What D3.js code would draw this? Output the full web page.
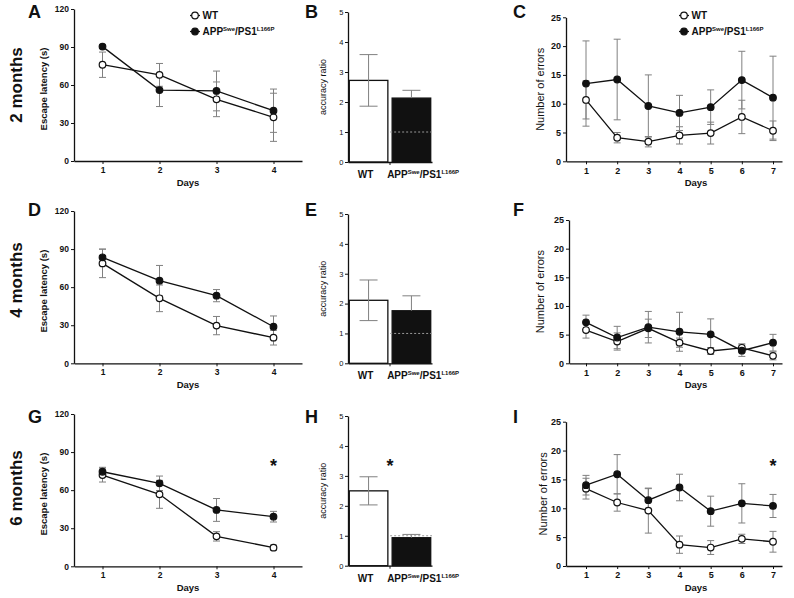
<!DOCTYPE html>
<html><head><meta charset="utf-8">
<script src="https://cdn.jsdelivr.net/npm/d3@7"></script>
<style>
html,body{margin:0;padding:0;background:#fff;}
svg{display:block;font-family:"Liberation Sans",Arial,sans-serif;}
</style></head>
<body>
<svg id="chart" width="794" height="598"></svg>
<script>
// ---------- data ----------
const days4 = [1, 2, 3, 4];
const days7 = [1, 2, 3, 4, 5, 6, 7];
const latencyTicks = [0, 30, 60, 90, 120];
const errorTicks = [0, 5, 10, 15, 20, 25];
const ratioTicks = [0, 1, 2, 3, 4, 5];
const groups = ["WT", "APP/PS1"];
const rowLabels = ["2 months", "4 months", "6 months"];

// A: escape latency, 2 months
const lat2mWT = [76, 68, 48.7, 34.5];
const lat2mWTsem = [10, 9, 13.7, 19];
const lat2mAPP = [90.3, 56, 55.3, 39.7];
const lat2mAPPsem = [1.5, 13, 15.7, 17.1];
// D: escape latency, 4 months
const lat4mWT = [78.7, 51.2, 29.7, 20.2];
const lat4mWTsem = [11.2, 10.5, 7.2, 5.8];
const lat4mAPP = [83.5, 65.1, 53.3, 28.8];
const lat4mAPPsem = [6.5, 12, 4.8, 8.5];
// G: escape latency, 6 months
const lat6mWT = [71.9, 56.7, 23.6, 14.7];
const lat6mWTsem = [5.5, 11, 3.7, 2];
const lat6mAPP = [74.5, 65.4, 44.4, 39.1];
const lat6mAPPsem = [3.5, 5.7, 9, 4.2];

// B, E, H: accuracy ratio [WT, APP/PS1]
const ratio2m = [2.72, 2.13];
const ratio2mSem = [0.86, 0.26];
const ratio4m = [2.11, 1.76];
const ratio4mSem = [0.68, 0.5];
const ratio6m = [2.5, 0.935];
const ratio6mSem = [0.47, 0.11];
const chanceLevel = 1;

// C: number of errors, 2 months
const err2mWT = [10.65, 4.1, 3.4, 4.5, 4.9, 7.7, 5.3];
const err2mWTsem = [3.3, 0.9, 0.9, 1.5, 1.9, 2.9, 1.7];
const err2mAPP = [13.5, 14.2, 9.6, 8.4, 9.4, 14.1, 11.05];
const err2mAPPsem = [7.4, 7, 5.4, 3.05, 3, 5, 7.2];
// F: number of errors, 4 months
const err4mWT = [5.8, 3.8, 6.1, 3.6, 2.15, 2.7, 1.3];
const err4mWTsem = [1.4, 1.5, 1.6, 0.8, 0.6, 0.7, 0.7];
const err4mAPP = [7.15, 4.5, 6.3, 5.5, 5.05, 2.2, 3.6];
const err4mAPPsem = [1.25, 1.95, 2.75, 3.4, 2.7, 1.0, 1.45];
// I: number of errors, 6 months
const err6mWT = [13.4, 11.0, 9.6, 3.7, 3.2, 4.7, 4.2];
const err6mWTsem = [1.8, 1.5, 3.9, 1.5, 1.2, 0.8, 1.8];
const err6mAPP = [14.0, 15.9, 11.4, 13.6, 9.5, 10.85, 10.4];
const err6mAPPsem = [1.7, 3.4, 2, 2.3, 2.6, 3.4, 2];

// ---------- drawing ----------
const svg = d3.select("#chart");
const ERR = "#808080";
const INK = "#111";

function appLabel(sel, fs) {
  sel.append("tspan").text("APP");
  sel.append("tspan").attr("dy", -fs * 0.42).attr("font-size", fs * 0.6).text("Swe");
  sel.append("tspan").attr("dy", fs * 0.42).text("/PS1");
  sel.append("tspan").attr("dy", -fs * 0.42).attr("font-size", fs * 0.6).text("L166P");
}

function styleAxis(g, fs, weight) {
  g.select(".domain").attr("stroke", INK).attr("stroke-width", 1.3);
  g.selectAll(".tick line").attr("stroke", INK).attr("stroke-width", 1);
  g.selectAll(".tick text").attr("font-size", fs).attr("font-weight", weight)
    .attr("fill", INK).attr("font-family", "Liberation Sans, Arial, sans-serif");
}

function linePanel(c) {
  const g = svg.append("g");
  const x = d3.scaleLinear().domain(c.xdom).range([c.x0, c.x1]);
  const y = d3.scaleLinear().domain([0, c.ymax]).range([c.yb, c.yt]);
  const ya = g.append("g").attr("transform", `translate(${c.x0},0)`)
    .call(d3.axisLeft(y).tickValues(c.yticks).tickSize(3).tickSizeOuter(0).tickPadding(2));
  styleAxis(ya, c.tfs, "bold");
  const xa = g.append("g").attr("transform", `translate(0,${c.yb})`)
    .call(d3.axisBottom(x).tickValues(c.days).tickSize(3).tickSizeOuter(0).tickPadding(3).tickFormat(d3.format("d")));
  styleAxis(xa, c.tfs, "bold");

  const series = [
    {v: c.wt, e: c.wtE, fill: "#fff"},
    {v: c.app, e: c.appE, fill: INK}
  ];
  // error bars
  series.forEach(s => {
    const eb = g.append("g").attr("stroke", ERR).attr("stroke-width", 1);
    c.days.forEach((d, i) => {
      const cx = x(d), hi = y(s.v[i] + s.e[i]), lo = y(Math.max(0, s.v[i] - s.e[i]));
      eb.append("line").attr("x1", cx).attr("x2", cx).attr("y1", hi).attr("y2", lo);
      eb.append("line").attr("x1", cx - 3.5).attr("x2", cx + 3.5).attr("y1", hi).attr("y2", hi);
      eb.append("line").attr("x1", cx - 3.5).attr("x2", cx + 3.5).attr("y1", lo).attr("y2", lo);
    });
  });
  const line = d3.line().x((d, i) => x(c.days[i])).y(d => y(d));
  series.forEach(s => {
    g.append("path").datum(s.v).attr("d", line).attr("fill", "none")
      .attr("stroke", INK).attr("stroke-width", 1.3);
  });
  series.forEach(s => {
    g.selectAll(null).data(s.v).enter().append("circle")
      .attr("cx", (d, i) => x(c.days[i])).attr("cy", d => y(d)).attr("r", 3.3)
      .attr("fill", s.fill).attr("stroke", INK).attr("stroke-width", 1.2);
  });
  // axis titles
  g.append("text").attr("x", c.dx).attr("y", c.dy).attr("text-anchor", "middle")
    .attr("font-size", 9.5).attr("font-weight", "bold").attr("fill", INK).text("Days");
  g.append("text").attr("transform", `translate(${c.lx},${c.ly}) rotate(-90)`)
    .attr("text-anchor", "middle").attr("font-size", c.lfs).attr("font-weight", c.lw)
    .attr("fill", INK).text(c.ylabel);
  if (c.star != null) {
    g.append("text").attr("x", x(c.star)).attr("y", c.starY).attr("text-anchor", "middle")
      .attr("font-size", 18).attr("font-weight", "bold").attr("fill", INK).text("*");
  }
  if (c.legend) {
    const L = c.legend;
    [{t: "WT", fill: "#fff"}, {t: "APP", fill: INK}].forEach((it, i) => {
      const yy = L.y + i * 16;
      g.append("line").attr("x1", L.x).attr("x2", L.x + 10).attr("y1", yy).attr("y2", yy)
        .attr("stroke", INK).attr("stroke-width", 1.3);
      g.append("circle").attr("cx", L.x + 5).attr("cy", yy).attr("r", 3.3)
        .attr("fill", it.fill).attr("stroke", INK).attr("stroke-width", 1.2);
      const t = g.append("text").attr("x", L.x + 12.5).attr("y", yy + 3.6)
        .attr("font-size", 10).attr("font-weight", "bold").attr("fill", INK);
      if (i === 0) t.text(groups[0]); else appLabel(t, 10);
    });
  }
}

function barPanel(c) {
  const g = svg.append("g");
  const x = d3.scaleBand().domain(groups).range([c.x0, c.x1]).paddingInner(0.1).paddingOuter(0.03);
  const y = d3.scaleLinear().domain([0, 5]).range([c.yb, c.yt]);
  const fills = ["#fff", INK];
  // bars
  g.selectAll(null).data(c.vals).enter().append("rect")
    .attr("x", (d, i) => x(groups[i])).attr("width", x.bandwidth())
    .attr("y", d => y(d)).attr("height", d => y(0) - y(d))
    .attr("fill", (d, i) => fills[i]).attr("stroke", INK).attr("stroke-width", 1.3);
  // error bars
  c.vals.forEach((v, i) => {
    const cx = x(groups[i]) + x.bandwidth() / 2;
    const hi = y(v + c.sem[i]);
    const lo = i === 0 ? y(v - c.sem[i]) : y(v);
    const eb = g.append("g").attr("stroke", ERR).attr("stroke-width", 1);
    eb.append("line").attr("x1", cx).attr("x2", cx).attr("y1", hi).attr("y2", lo);
    eb.append("line").attr("x1", cx - 9).attr("x2", cx + 9).attr("y1", hi).attr("y2", hi);
    if (i === 0) eb.append("line").attr("x1", cx - 9).attr("x2", cx + 9).attr("y1", lo).attr("y2", lo);
  });
  // chance line
  g.append("line").attr("x1", x(groups[1]) - 2).attr("x2", c.x1)
    .attr("y1", y(chanceLevel)).attr("y2", y(chanceLevel))
    .attr("stroke", "#999").attr("stroke-width", 1).attr("stroke-dasharray", "2,2");
  const ya = g.append("g").attr("transform", `translate(${c.x0},0)`)
    .call(d3.axisLeft(y).tickValues(ratioTicks).tickSize(3).tickSizeOuter(0).tickPadding(1.5).tickFormat(d3.format("d")));
  styleAxis(ya, 7.5, "normal");
  const xa = g.append("g").attr("transform", `translate(0,${c.yb})`)
    .call(d3.axisBottom(x).tickValues([]).tickSizeOuter(0));
  styleAxis(xa, 7.5, "normal");
  const mid = (x(groups[0]) + x.bandwidth() + x(groups[1])) / 2;
  g.append("line").attr("x1", mid).attr("x2", mid).attr("y1", c.yb).attr("y2", c.yb + 3).attr("stroke", INK);
  // labels
  g.append("text").attr("x", x(groups[0]) + x.bandwidth() / 2 - 3).attr("y", c.yb + 16)
    .attr("text-anchor", "middle").attr("font-size", 10).attr("font-weight", "bold").attr("fill", INK).text(groups[0]);
  const t = g.append("text").attr("x", x(groups[1]) - 5).attr("y", c.yb + 16)
    .attr("text-anchor", "start").attr("font-size", 10).attr("font-weight", "bold").attr("fill", INK);
  appLabel(t, 10);
  g.append("text").attr("transform", `translate(${c.lx},${c.ly}) rotate(-90)`)
    .attr("text-anchor", "middle").attr("font-size", 9).attr("fill", INK).text("accuracy ratio");
  if (c.star) {
    g.append("text").attr("x", mid).attr("y", c.starY).attr("text-anchor", "middle")
      .attr("font-size", 18).attr("font-weight", "bold").attr("fill", INK).text("*");
  }
}

const latData = [
  [lat2mWT, lat2mWTsem, lat2mAPP, lat2mAPPsem],
  [lat4mWT, lat4mWTsem, lat4mAPP, lat4mAPPsem],
  [lat6mWT, lat6mWTsem, lat6mAPP, lat6mAPPsem]
];
const errData = [
  [err2mWT, err2mWTsem, err2mAPP, err2mAPPsem],
  [err4mWT, err4mWTsem, err4mAPP, err4mAPPsem],
  [err6mWT, err6mWTsem, err6mAPP, err6mAPPsem]
];
const ratioData = [[ratio2m, ratio2mSem], [ratio4m, ratio4mSem], [ratio6m, ratio6mSem]];
const yTopsLat = [9, 211, 414], yBotLat = [161, 363.3, 566.3];
const yTopsBar = [12, 214, 416], yBotBar = [162, 363.3, 565.7];
const yTopsErr = [17.3, 220, 421.7], yBotErr = [161.3, 363.3, 566];
const errAxisX = [566, 569, 566];
const letters = [["A", "B", "C"], ["D", "E", "F"], ["G", "H", "I"]];
const letterY = [18, 216, 423];
const rowLabelY = [85, 280, 488];

for (let r = 0; r < 3; r++) {
  const [w, we, a, ae] = latData[r];
  linePanel({
    days: days4, xdom: [0.5, 4.5], x0: 74, x1: 302, yt: yTopsLat[r], yb: yBotLat[r],
    ymax: 120, yticks: latencyTicks, tfs: 8.5, wt: w, wtE: we, app: a, appE: ae,
    dx: 188, dy: yBotLat[r] + 25, lx: 47, ly: (yTopsLat[r] + yBotLat[r]) / 2 + 4,
    ylabel: "Escape latency (s)", lfs: 9.5, lw: "bold",
    star: r === 2 ? 4 : null, starY: 472,
    legend: r === 0 ? {x: 190, y: 15.5} : null
  });
  barPanel({
    vals: ratioData[r][0], sem: ratioData[r][1], x0: 348, x1: 432,
    yt: yTopsBar[r], yb: yBotBar[r], lx: 326, ly: (yTopsBar[r] + yBotBar[r]) / 2,
    star: r === 2, starY: 472
  });
  const [ew, ewe, eap, eape] = errData[r];
  const ex0 = errAxisX[r];
  // day 1 at 586, day 7 at 773
  const slope = (773 - 586) / 6;
  linePanel({
    days: days7, xdom: [1 - (586 - ex0) / slope, 7 + (782 - 773) / slope], x0: ex0, x1: 782,
    yt: yTopsErr[r], yb: yBotErr[r], ymax: 25, yticks: errorTicks, tfs: 9,
    wt: ew, wtE: ewe, app: eap, appE: eape,
    dx: 696, dy: yBotErr[r] + 25, lx: r === 2 ? 547 : 544, ly: (yTopsErr[r] + yBotErr[r]) / 2,
    ylabel: "Number of errors", lfs: 11, lw: "normal",
    star: r === 2 ? 7 : null, starY: 472,
    legend: r === 0 ? {x: 679, y: 15.5} : null
  });
  // panel letters
  [28, 305, 513].forEach((lx, k) => {
    svg.append("text").attr("x", lx).attr("y", letterY[r]).attr("font-size", 18)
      .attr("font-weight", "bold").attr("fill", INK).text(letters[r][k]);
  });
  svg.append("text").attr("transform", `translate(22,${rowLabelY[r]}) rotate(-90)`)
    .attr("text-anchor", "middle").attr("font-size", 17).attr("font-weight", "bold")
    .attr("fill", INK).text(rowLabels[r]);
}
</script>
</body></html>
